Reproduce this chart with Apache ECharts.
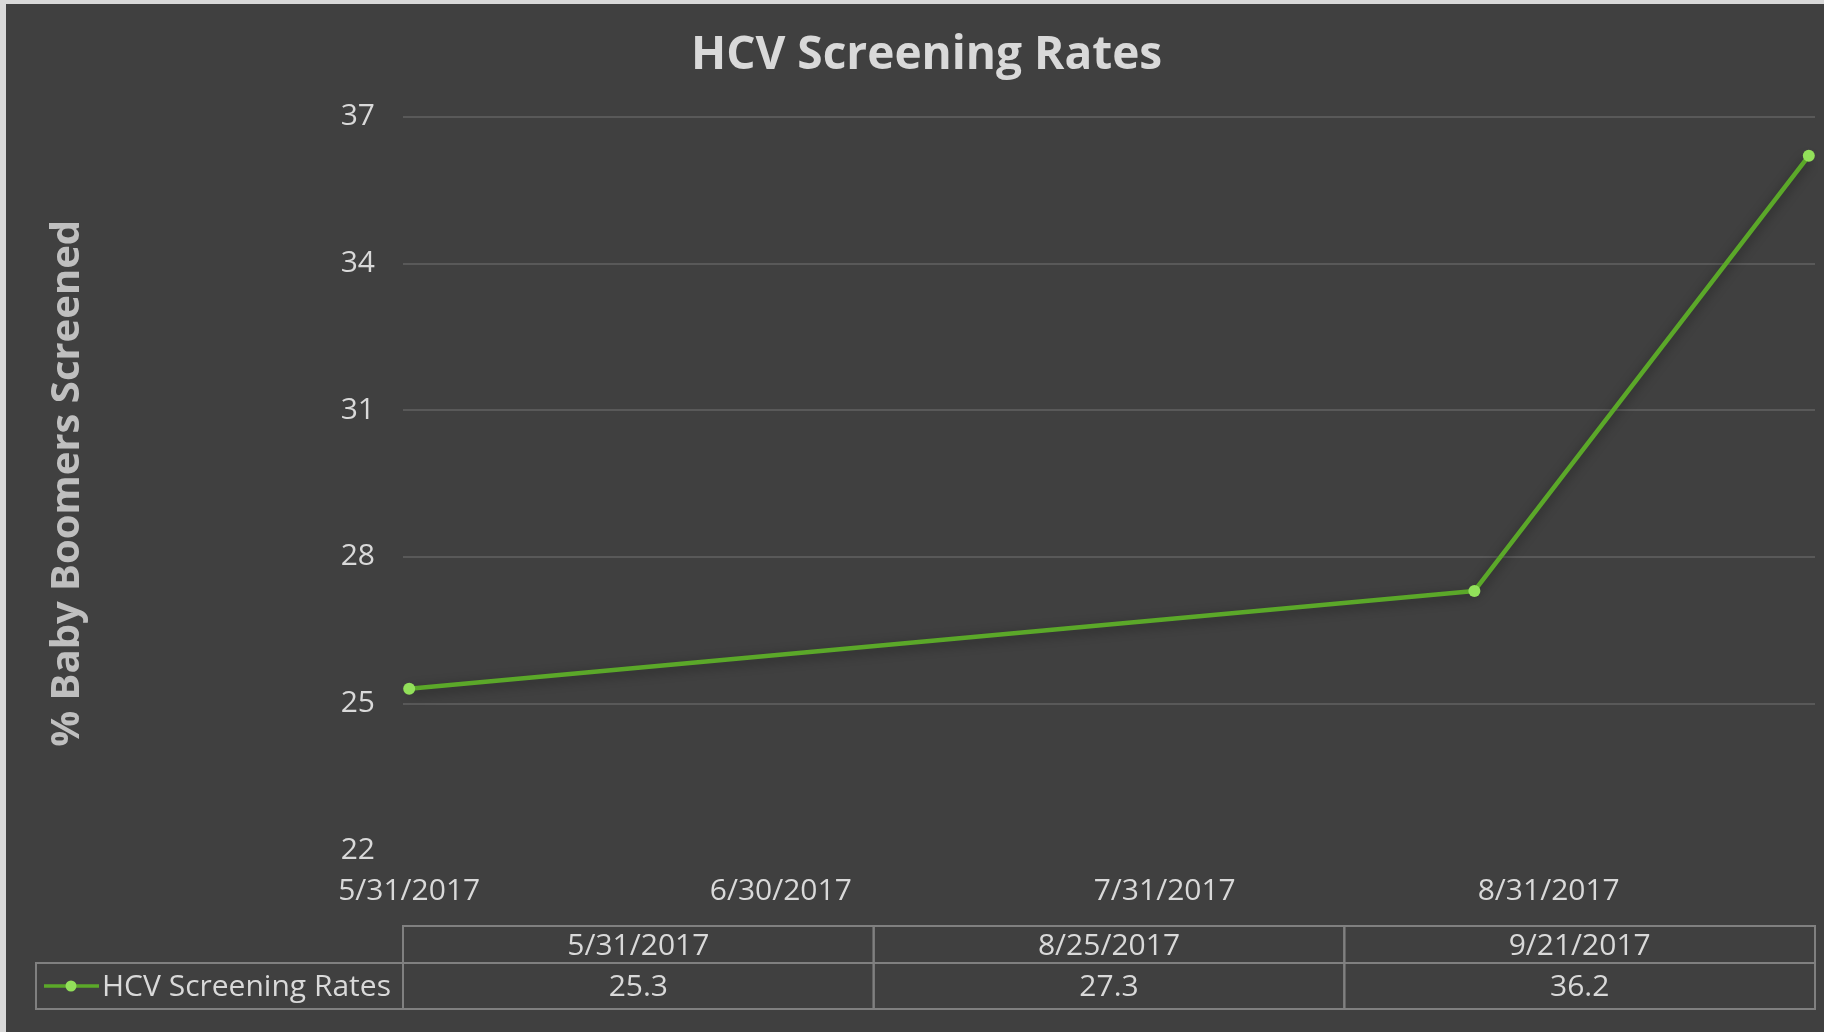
<!DOCTYPE html>
<html>
<head>
<meta charset="utf-8">
<script src="https://cdn.jsdelivr.net/npm/echarts@6/dist/echarts.min.js"></script>
<style>
  html, body { margin: 0; padding: 0; background: #d9d9d9; }
  #chart { width: 1824px; height: 1032px; }
</style>
</head>
<body>
<div id="chart"></div>
<script>
// values
const seriesName = 'HCV Screening Rates'
const pointDates = ['5/31/2017', '8/25/2017', '9/21/2017']
const rates = [25.3, 27.3, 36.2]
const axisTickDates = ['5/31/2017', '6/30/2017', '7/31/2017', '8/31/2017']
const yMin = 22
const yMax = 37
const yStep = 3

// x is counted in days from the first date, like a date axis
const DAY = 24 * 3600 * 1000
const toUtc = (s) => {
  const [m, d, y] = s.split('/').map(Number)
  return Date.UTC(y, m - 1, d)
}
const baseDay = toUtc(pointDates[0])
const dayOf = (s) => Math.round((toUtc(s) - baseDay) / DAY)
const formatDay = (v) => {
  const d = new Date(baseDay + Math.round(v) * DAY)
  return (d.getUTCMonth() + 1) + '/' + d.getUTCDate() + '/' + d.getUTCFullYear()
}

const FONT = '"Open Sans", "Noto Sans", sans-serif'
const lineColor = '#5ba829'
const markerColor = '#92e05a'
const textColor = '#d9d9d9'
const borderColor = '#808080'

const gridLeft = 403
const gridRight = 1815

// data table under the plot
const buildTable = () => {
  const els = []
  const top = 926, mid = 963, bottom = 1009
  const legendLeft = 36
  const colW = (gridRight - gridLeft) / pointDates.length
  const font = '30px ' + FONT
  els.push({ type: 'rect', shape: { x: legendLeft, y: mid, width: gridLeft - legendLeft, height: bottom - mid },
    style: { fill: 'none', stroke: borderColor, lineWidth: 2 } })
  els.push({ type: 'line', shape: { x1: 44, y1: (mid + bottom) / 2, x2: 99, y2: (mid + bottom) / 2 },
    style: { stroke: lineColor, lineWidth: 3.5 } })
  els.push({ type: 'circle', shape: { cx: 71, cy: (mid + bottom) / 2, r: 5.5 }, style: { fill: markerColor } })
  els.push({ type: 'text', x: 102, y: (mid + bottom) / 2 + 1,
    style: { text: seriesName, font: font, fill: textColor, verticalAlign: 'middle' } })
  pointDates.forEach((d, i) => {
    const x = gridLeft + colW * i
    els.push({ type: 'rect', shape: { x: x, y: top, width: colW, height: mid - top },
      style: { fill: 'none', stroke: borderColor, lineWidth: 2 } })
    els.push({ type: 'rect', shape: { x: x, y: mid, width: colW, height: bottom - mid },
      style: { fill: 'none', stroke: borderColor, lineWidth: 2 } })
    els.push({ type: 'text', x: x + colW / 2, y: (top + mid) / 2 + 2,
      style: { text: d, font: font, fill: textColor, align: 'center', verticalAlign: 'middle' } })
    els.push({ type: 'text', x: x + colW / 2, y: (mid + bottom) / 2 + 1,
      style: { text: rates[i].toFixed(1), font: font, fill: textColor, align: 'center', verticalAlign: 'middle' } })
  })
  return els
}

const myChart = echarts.init(document.getElementById('chart'))

const option = {
  backgroundColor: '#404040',
  animation: false,
  title: {
    text: 'HCV Screening Rates',
    left: 691,
    top: 33,
    padding: 0,
    textStyle: { color: textColor, fontFamily: FONT, fontWeight: 'bold', fontSize: 46 }
  },
  grid: {
    left: gridLeft,
    right: 1824 - gridRight,
    top: 116.7,
    bottom: 1032 - 850,
    containLabel: false,
    outerBoundsMode: 'none'
  },
  xAxis: {
    type: 'value',
    min: -0.5,
    max: dayOf(pointDates[pointDates.length - 1]) + 0.5,
    axisLine: { show: false },
    axisTick: { show: false },
    splitLine: { show: false },
    axisLabel: {
      customValues: axisTickDates.map(dayOf),
      formatter: (v) => formatDay(v),
      color: textColor,
      fontFamily: FONT,
      fontSize: 30,
      margin: 26,
      hideOverlap: false
    }
  },
  yAxis: {
    type: 'value',
    min: yMin,
    max: yMax,
    interval: yStep,
    name: '% Baby Boomers Screened',
    nameLocation: 'middle',
    nameRotate: 90,
    nameGap: 315,
    nameTextStyle: { color: '#bfbfbf', fontFamily: FONT, fontWeight: 'bold', fontSize: 40 },
    axisLine: { show: false },
    axisTick: { show: false },
    axisLabel: { color: textColor, fontFamily: FONT, fontSize: 30, margin: 28, padding: [4, 0, 0, 0] },
    splitLine: { show: true, showMinLine: false, lineStyle: { color: '#595959', width: 2 } }
  },
  series: [
    {
      name: seriesName,
      type: 'line',
      data: pointDates.map((d, i) => [dayOf(d), rates[i]]),
      symbol: 'circle',
      symbolSize: 12,
      itemStyle: { color: markerColor },
      lineStyle: {
        color: lineColor,
        width: 4.5,
        shadowColor: 'rgba(0,0,0,0.45)',
        shadowBlur: 12,
        shadowOffsetY: 3
      }
    }
  ],
  graphic: [
    { type: 'rect', shape: { x: 0, y: 0, width: 1824, height: 4 }, style: { fill: '#d9d9d9' } },
    { type: 'rect', shape: { x: 0, y: 0, width: 6, height: 1032 }, style: { fill: '#d9d9d9' } }
  ].concat(buildTable())
}

option && myChart.setOption(option)
</script>
</body>
</html>
